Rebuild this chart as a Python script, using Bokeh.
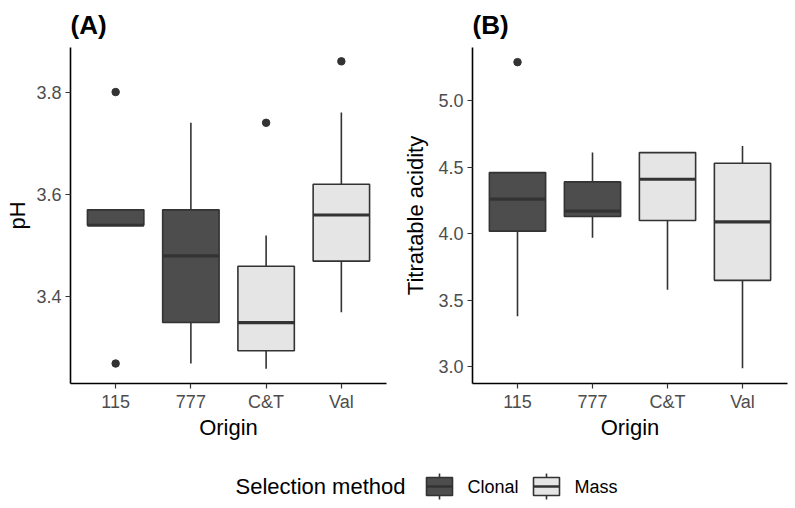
from bokeh.plotting import figure
from bokeh.models import FactorRange, Range1d, FixedTicker, ColumnDataSource, NumeralTickFormatter
from bokeh.core.properties import value
from bokeh.transform import dodge
from bokeh.layouts import column, row
from bokeh.embed import file_html
from bokeh.resources import INLINE

# Box-plot summaries per origin (lower whisker, Q1, median, Q3, upper whisker)
origins = ["115", "777", "C&T", "Val"]
selection = ["Clonal", "Clonal", "Mass", "Mass"]

ph_lower = [3.54, 3.27, 3.26, 3.37]
ph_q1 = [3.54, 3.35, 3.295, 3.47]
ph_median = [3.54, 3.48, 3.35, 3.56]
ph_q3 = [3.57, 3.57, 3.46, 3.62]
ph_upper = [3.57, 3.74, 3.52, 3.76]
ph_out_origin = ["115", "115", "C&T", "Val"]
ph_out_value = [3.80, 3.27, 3.74, 3.86]

ta_lower = [3.38, 3.97, 3.58, 2.99]
ta_q1 = [4.02, 4.13, 4.10, 3.65]
ta_median = [4.26, 4.17, 4.41, 4.09]
ta_q3 = [4.46, 4.39, 4.61, 4.53]
ta_upper = [4.46, 4.61, 4.61, 4.66]
ta_out_origin = ["115"]
ta_out_value = [5.29]

methods = ["Clonal", "Mass"]
method_fill = {"Clonal": "#4D4D4D", "Mass": "#E5E5E5"}

FONT = "Liberation Sans"
EDGE = "#333333"
BOX_W = 0.75


def panel(tag, ylabel, lower, q1, med, q3, upper, out_x, out_y, yr, ticks,
          width, left, right, ylab_standoff):
    p = figure(
        x_range=FactorRange(factors=origins, range_padding=0.1,
                            range_padding_units="absolute"),
        y_range=Range1d(*yr),
        width=width, height=445,
        min_border_left=left, min_border_right=right,
        min_border_top=47, min_border_bottom=62,
        output_backend="svg", toolbar_location=None,
    )
    src = ColumnDataSource(dict(
        origin=origins, lower=lower, q1=q1, med=med, q3=q3, upper=upper,
        fill=[method_fill[m] for m in selection],
    ))
    p.segment(x0="origin", y0="lower", x1="origin", y1="upper", source=src,
              line_color=EDGE, line_width=1.6)
    p.vbar(x="origin", bottom="q1", top="q3", width=BOX_W, source=src,
           fill_color="fill", line_color=EDGE, line_width=1.6)
    p.segment(x0=dodge("origin", -BOX_W / 2, range=p.x_range), y0="med",
              x1=dodge("origin", BOX_W / 2, range=p.x_range), y1="med",
              source=src, line_color=EDGE, line_width=3.2)
    p.scatter(x=out_x, y=out_y, size=7.5, fill_color=EDGE, line_color=EDGE)

    p.title.text = tag
    p.title.text_font = FONT
    p.title.text_font_size = "26px"
    p.title.text_font_style = "bold"
    p.title.text_color = "black"
    p.title.align = "left"
    p.title.standoff = 15

    p.xgrid.visible = False
    p.ygrid.visible = False
    p.outline_line_color = None
    p.background_fill_color = "white"
    p.border_fill_color = "white"

    p.yaxis.ticker = FixedTicker(ticks=ticks)
    p.yaxis.formatter = NumeralTickFormatter(format="0.0")
    for ax in (p.xaxis, p.yaxis):
        ax.axis_line_color = "black"
        ax.axis_line_width = 1.6
        ax.major_tick_line_color = EDGE
        ax.major_tick_line_width = 1.2
        ax.major_tick_out = 5
        ax.major_tick_in = 0
        ax.minor_tick_line_color = None
        ax.major_label_text_font = FONT
        ax.major_label_text_font_size = "18px"
        ax.major_label_text_color = "#4D4D4D"
        ax.axis_label_text_font = FONT
        ax.axis_label_text_font_size = "22px"
        ax.axis_label_text_font_style = "normal"
        ax.axis_label_text_color = "black"
    p.xaxis.axis_label = "Origin"
    p.yaxis.axis_label = ylabel
    p.xaxis.major_label_standoff = 3
    p.yaxis.major_label_standoff = 4
    p.xaxis.axis_label_standoff = 0
    p.yaxis.axis_label_standoff = ylab_standoff
    return p


pa = panel("(A)", "pH", ph_lower, ph_q1, ph_median, ph_q3, ph_upper,
           ph_out_origin, ph_out_value, (3.231, 3.887), [3.4, 3.6, 3.8],
           395, 70, 9, 3)
pb = panel("(B)", "Titratable acidity", ta_lower, ta_q1, ta_median, ta_q3,
           ta_upper, ta_out_origin, ta_out_value, (2.875, 5.4),
           [3.0, 3.5, 4.0, 4.5, 5.0], 400, 77, 8, 7)

# Legend strip: title, then one box-plot key per selection method
leg = figure(width=795, height=63, x_range=Range1d(0, 795), y_range=Range1d(0, 63),
             min_border=0, output_backend="svg", toolbar_location=None)
leg.axis.visible = False
leg.grid.visible = False
leg.outline_line_color = None
leg.border_fill_color = "white"

cy = 22
leg.text(x=[235], y=[cy], text=["Selection method"], text_font=value(FONT),
         text_font_size=value("22px"), text_baseline="middle", text_align="left",
         text_color="black")
key_x = [426, 533]
key_w, key_h, whisk = 26, 18, 4
leg.segment(x0=[k + key_w / 2 for k in key_x], x1=[k + key_w / 2 for k in key_x],
            y0=[cy - key_h / 2 - whisk] * 2, y1=[cy + key_h / 2 + whisk] * 2,
            line_color=EDGE, line_width=1.6)
leg.quad(left=key_x, right=[k + key_w for k in key_x],
         bottom=[cy - key_h / 2] * 2, top=[cy + key_h / 2] * 2,
         fill_color=[method_fill[m] for m in methods], line_color=EDGE, line_width=1.6)
leg.segment(x0=key_x, x1=[k + key_w for k in key_x], y0=[cy] * 2, y1=[cy] * 2,
            line_color=EDGE, line_width=2.4)
leg.text(x=[k + key_w + 15 for k in key_x], y=[cy] * 2, text=methods,
         text_font=value(FONT), text_font_size=value("18px"), text_baseline="middle",
         text_align="left", text_color="black")

layout = column(row(pa, pb), leg)
open("out.html", "w").write(file_html(layout, INLINE))
